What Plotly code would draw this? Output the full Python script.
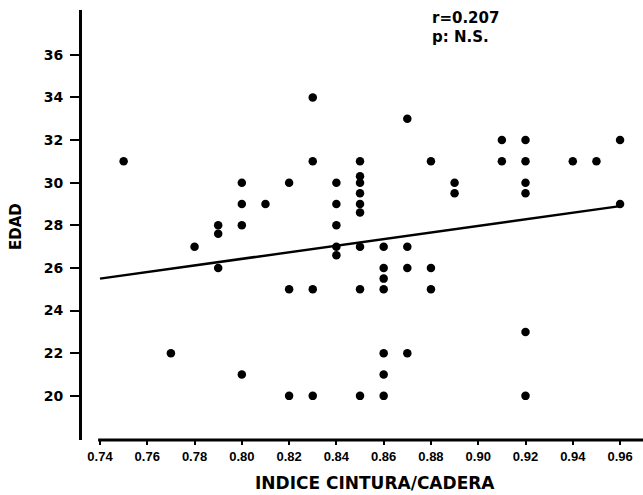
import plotly.graph_objects as go

# Data
indice = [0.75, 0.77, 0.78,
          0.79, 0.79, 0.79,
          0.80, 0.80, 0.80, 0.80,
          0.81,
          0.82, 0.82, 0.82,
          0.83, 0.83, 0.83, 0.83,
          0.84, 0.84, 0.84, 0.84, 0.84,
          0.85, 0.85, 0.85, 0.85, 0.85, 0.85, 0.85, 0.85, 0.85,
          0.86, 0.86, 0.86, 0.86, 0.86, 0.86, 0.86,
          0.87, 0.87, 0.87, 0.87,
          0.88, 0.88, 0.88,
          0.89, 0.89,
          0.91, 0.91,
          0.92, 0.92, 0.92, 0.92, 0.92, 0.92,
          0.94, 0.95,
          0.96, 0.96]
edad = [31, 22, 27,
        28, 27.6, 26,
        30, 29, 28, 21,
        29,
        30, 25, 20,
        34, 31, 25, 20,
        30, 29, 28, 27, 26.6,
        31, 30.3, 30, 29.5, 29, 28.6, 27, 25, 20,
        27, 26, 25.5, 25, 22, 21, 20,
        33, 27, 26, 22,
        31, 26, 25,
        30, 29.5,
        32, 31,
        32, 31, 30, 29.5, 23, 20,
        31, 31,
        32, 29]

fit_x = [0.74, 0.96]
fit_y = [25.5, 28.9]

x_ticks = [0.74, 0.76, 0.78, 0.80, 0.82, 0.84, 0.86, 0.88, 0.90, 0.92, 0.94, 0.96]
y_ticks = [20, 22, 24, 26, 28, 30, 32, 34, 36]

FONT = "Liberation Sans"
HEAVY = "DejaVu Sans"

fig = go.Figure()
fig.add_trace(go.Scatter(x=fit_x, y=fit_y, mode="lines",
                         line=dict(color="black", width=2.5),
                         showlegend=False, hoverinfo="skip"))
fig.add_trace(go.Scatter(x=indice, y=edad, mode="markers",
                         marker=dict(color="black", size=8.5),
                         showlegend=False))

fig.update_layout(
    width=643, height=495,
    margin=dict(l=82, r=0, t=10, b=55),
    paper_bgcolor="white", plot_bgcolor="white",
    font=dict(family=FONT, color="black"),
    xaxis=dict(range=[0.73239, 0.9697], tickvals=x_ticks,
               ticktext=[f"{v:.2f}" for v in x_ticks],
               showgrid=False, zeroline=False, showline=False,
               ticks="outside", ticklen=4, tickwidth=2, tickcolor="black",
               tickfont=dict(family=FONT, size=13, weight="bold")),
    yaxis=dict(range=[17.93, 38.1], tickvals=y_ticks,
               showgrid=False, zeroline=False,
               showline=True, linecolor="black", linewidth=3,
               ticks="outside", ticklen=9, tickwidth=2, tickcolor="black",
               ticklabelstandoff=4,
               tickfont=dict(family=HEAVY, size=14, weight="bold")),
    shapes=[dict(type="line", xref="x", yref="paper",
                 x0=0.7392, x1=0.9697, y0=0, y1=0,
                 line=dict(color="black", width=3))],
    annotations=[
        dict(text="r=0.207", xref="paper", yref="paper", x=0.620,
             y=(440 - 18.5) / 430,
             xanchor="left", yanchor="middle", showarrow=False,
             font=dict(family=HEAVY, size=15, weight="bold")),
        dict(text="p: N.S.", xref="paper", yref="paper", x=0.620,
             y=(440 - 37) / 430,
             xanchor="left", yanchor="middle", showarrow=False,
             font=dict(family=HEAVY, size=15, weight="bold")),
        dict(text="INDICE CINTURA/CADERA", xref="paper", yref="paper",
             x=(375 - 82) / 561, y=(440 - 483) / 430,
             xanchor="center", yanchor="middle",
             showarrow=False,
             font=dict(family=HEAVY, size=17, weight="bold")),
        dict(text="EDAD", xref="paper", yref="paper",
             x=(16 - 82) / 561, y=(440 - 227) / 430,
             xanchor="center", yanchor="middle", textangle=-90,
             showarrow=False,
             font=dict(family=HEAVY, size=15, weight="bold")),
    ],
)

fig.write_html("out.html", config={"displayModeBar": False},
               post_script="document.body.style.margin='0';")
